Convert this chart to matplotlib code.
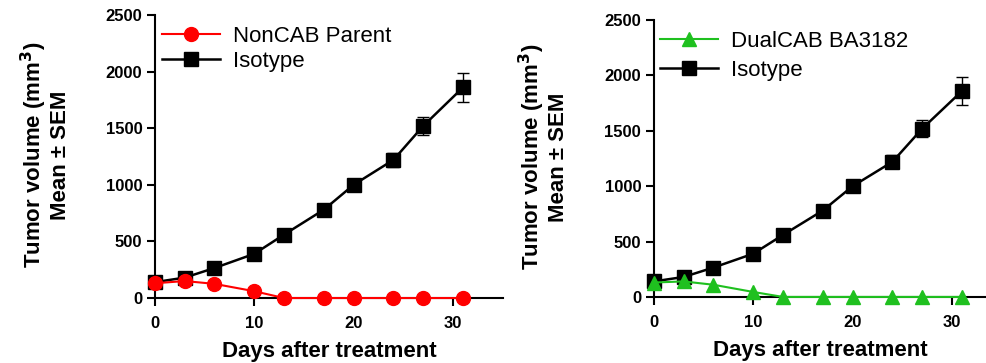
import numpy as np
import matplotlib.pyplot as plt

plt.rcParams['font.family'] = ['Liberation Sans', 'DejaVu Sans']

# days after treatment
days = [0, 3, 6, 10, 13, 17, 20, 24, 27, 31]

# mean tumor volume (mm3) and SEM per group
isotype = [140, 180, 265, 390, 560, 780, 1000, 1220, 1520, 1860]
isotype_sem = [15, 20, 25, 30, 35, 40, 45, 60, 80, 125]
noncab = [130, 150, 125, 60, 0, 0, 0, 0, 0, 0]
dualcab = [130, 140, 110, 45, 0, 0, 0, 0, 0, 0]

yticks = [0, 500, 1000, 1500, 2000, 2500]
xticks = [0, 10, 20, 30]

fig = plt.figure(figsize=(9.86, 3.63), dpi=100)
ax1 = fig.add_axes([0.157, 0.179, 0.353, 0.780])
ax2 = fig.add_axes([0.663, 0.182, 0.337, 0.763])


def style(ax, xmax):
    ax.set_xlim(0, xmax)
    ax.set_ylim(0, 2500)
    ax.spines['top'].set_visible(False)
    ax.spines['right'].set_visible(False)
    ax.spines['left'].set_linewidth(1.5)
    ax.spines['bottom'].set_linewidth(1.5)
    ax.set_yticks(yticks)
    ax.set_xticks(xticks)
    ax.tick_params(width=1.5, length=6, labelsize=12, pad=3)
    ax.tick_params(axis='x', pad=7)
    for lab in ax.get_xticklabels() + ax.get_yticklabels():
        lab.set_fontweight('bold')
    ax.set_xlabel('Days after treatment', fontsize=16, fontweight='bold', labelpad=7)
    ax.set_ylabel('Tumor volume (mm$^{\\mathbf{3}}$)\nMean ± SEM', fontsize=16,
                  fontweight='bold', linespacing=1.05)


def isotype_line(ax):
    ax.errorbar(days, isotype, yerr=isotype_sem, color='black', fmt='none',
                elinewidth=1, capsize=4, capthick=1, clip_on=False, zorder=3)
    ax.plot(days, isotype, color='black', marker='s', markersize=10,
            linewidth=1.8, label='Isotype', clip_on=False, zorder=3)


# left: NonCAB parent vs isotype
ax1.plot(days, noncab, color='#ff0000', marker='o', markersize=10,
         linewidth=1.5, label='NonCAB Parent', clip_on=False, zorder=4)
isotype_line(ax1)
style(ax1, 35)
ax1.yaxis.set_label_coords(-0.24, 0.505)

# right: DualCAB vs isotype
ax2.plot(days, dualcab, color='#1fc01f', marker='^', markersize=10,
         linewidth=1.5, label='DualCAB BA3182', clip_on=False, zorder=4)
isotype_line(ax2)
style(ax2, 33.4)
ax2.yaxis.set_label_coords(-0.255, 0.505)

for ax, ypos, sp in ((ax1, 0.962, 0.2), (ax2, 0.96, 0.35)):
    ax.legend(loc='upper left', bbox_to_anchor=(0.02, ypos), frameon=False,
              borderpad=0, borderaxespad=0, fontsize=16, handlelength=2.6,
              handletextpad=0.6, labelspacing=sp)

fig.savefig('out.png', dpi=100)
